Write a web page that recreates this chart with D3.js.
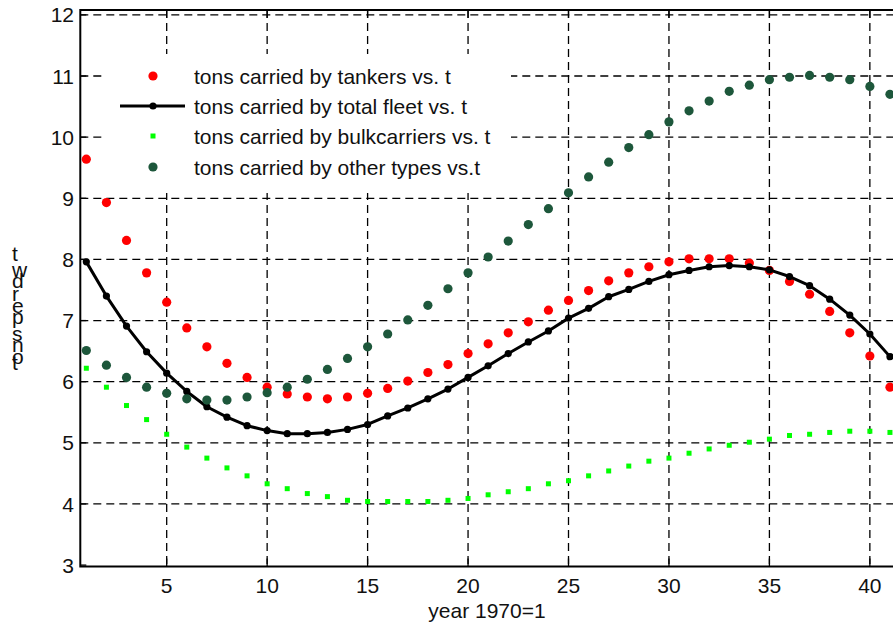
<!DOCTYPE html>
<html>
<head>
<meta charset="utf-8">
<script src="https://cdn.jsdelivr.net/npm/d3@7"></script>
<style>
  body { margin: 0; background: #fff; }
  svg { display: block; font-family: "Liberation Sans", Arial, sans-serif; }
</style>
</head>
<body>
<script>
// year index, 1970 = 1
const years = d3.range(1, 42);

const tankers = [9.64, 8.93, 8.31, 7.78, 7.30, 6.88, 6.57, 6.30, 6.07, 5.91,
                 5.80, 5.75, 5.72, 5.75, 5.81, 5.89, 6.01, 6.15, 6.28, 6.46,
                 6.62, 6.80, 6.98, 7.17, 7.33, 7.49, 7.65, 7.78, 7.88, 7.96,
                 8.01, 8.01, 8.01, 7.94, 7.82, 7.64, 7.43, 7.15, 6.80, 6.42, 5.91];

const totalFleet = [7.96, 7.40, 6.91, 6.49, 6.14, 5.84, 5.59, 5.42, 5.28, 5.20,
                    5.15, 5.15, 5.17, 5.22, 5.30, 5.44, 5.57, 5.72, 5.88, 6.07,
                    6.26, 6.46, 6.65, 6.83, 7.04, 7.20, 7.39, 7.51, 7.64, 7.75,
                    7.82, 7.88, 7.90, 7.88, 7.83, 7.72, 7.57, 7.35, 7.09, 6.78, 6.41];

const bulkCarriers = [6.22, 5.91, 5.61, 5.38, 5.14, 4.93, 4.75, 4.59, 4.46, 4.33,
                      4.25, 4.17, 4.12, 4.06, 4.04, 4.04, 4.04, 4.04, 4.06, 4.09,
                      4.15, 4.20, 4.25, 4.33, 4.38, 4.46, 4.54, 4.62, 4.70, 4.75,
                      4.83, 4.90, 4.96, 5.01, 5.06, 5.12, 5.14, 5.17, 5.19, 5.19, 5.17];

const otherTypes = [6.51, 6.27, 6.07, 5.91, 5.81, 5.72, 5.70, 5.70, 5.75, 5.82,
                    5.91, 6.04, 6.20, 6.38, 6.57, 6.78, 7.01, 7.25, 7.52, 7.78,
                    8.04, 8.30, 8.57, 8.83, 9.09, 9.35, 9.59, 9.83, 10.04, 10.25,
                    10.43, 10.59, 10.75, 10.85, 10.94, 10.98, 11.01, 10.98, 10.94, 10.83, 10.70];

const xTicks = [5, 10, 15, 20, 25, 30, 35, 40];
const yTicks = [3, 4, 5, 6, 7, 8, 9, 10, 11, 12];

const legendLabels = [
    "tons carried by tankers vs. t",
    "tons carried by total fleet vs. t",
    "tons carried by bulkcarriers vs. t",
    "tons carried by other types vs.t"
];

const yLabel = "tons per dwt";
const xLabel = "year 1970=1";

function drawChart() {
    const width = 893;
    const height = 625;
    const fontSize = 21;

    // plot box runs past the right edge of the picture, like the original
    const x = d3.scaleLinear().domain([0.7, 41.5]).range([80.3, 900]);
    const y = d3.scaleLinear().domain([2.977, 12.08]).range([566.5, 10]);

    const svg = d3.select("body").append("svg")
        .attr("width", width)
        .attr("height", height);

    const [x0, x1] = x.range();
    const [y0, y1] = y.range();

    // [0] dashed grid
    const grid = svg.append("g")
        .attr("stroke", "#000")
        .attr("stroke-width", 1.3)
        .attr("stroke-dasharray", "8,5");

    grid.selectAll("line.h")
        .data(yTicks.filter(d => d > 3))
        .join("line")
            .attr("class", "h")
            .attr("x1", x0).attr("x2", x1)
            .attr("y1", d => y(d)).attr("y2", d => y(d));

    grid.selectAll("line.v")
        .data(xTicks)
        .join("line")
            .attr("class", "v")
            .attr("x1", d => x(d)).attr("x2", d => x(d))
            .attr("y1", y1).attr("y2", y0);

    // [1] inner ticks
    const ticks = svg.append("g").attr("stroke", "#000").attr("stroke-width", 1.3);
    ticks.selectAll("line.ly").data(yTicks).join("line")
        .attr("x1", x0).attr("x2", x0 + 6)
        .attr("y1", d => y(d)).attr("y2", d => y(d));
    ticks.selectAll("line.bx").data(xTicks).join("line")
        .attr("class", "bx")
        .attr("x1", d => x(d)).attr("x2", d => x(d))
        .attr("y1", y0).attr("y2", y0 - 8);
    ticks.selectAll("line.tx").data(xTicks).join("line")
        .attr("class", "tx")
        .attr("x1", d => x(d)).attr("x2", d => x(d))
        .attr("y1", y1).attr("y2", y1 + 8);

    // [2] frame
    svg.append("path")
        .attr("fill", "none")
        .attr("stroke", "#000")
        .attr("stroke-width", 2)
        .attr("d", `M${x1},${y1}H${x0}V${y0}H${x1}`);

    // [3] tick labels
    svg.append("g")
        .selectAll("text")
        .data(yTicks)
        .join("text")
            .attr("x", 74)
            .attr("y", d => y(d))
            .attr("dy", "0.36em")
            .attr("text-anchor", "end")
            .attr("font-size", fontSize)
            .attr("fill", "#111")
            .text(d => d);

    svg.append("g")
        .selectAll("text")
        .data(xTicks)
        .join("text")
            .attr("x", d => x(d))
            .attr("y", 593)
            .attr("text-anchor", "middle")
            .attr("font-size", fontSize)
            .attr("fill", "#111")
            .text(d => d);

    svg.append("text")
        .attr("x", 487)
        .attr("y", 618)
        .attr("text-anchor", "middle")
        .attr("font-size", fontSize)
        .attr("fill", "#111")
        .text(xLabel);

    // y label: rotated baseline but upright glyphs (as in the original render)
    const yl = svg.append("g").attr("font-size", fontSize).attr("fill", "#111");
    const probe = yl.append("text");
    let offset = 0;
    const chars = yLabel.split("").map(c => {
        probe.text(c === " " ? "\u00a0" : c);
        const w = probe.node().getComputedTextLength();
        const item = { c, off: offset };
        offset += w;
        return item;
    });
    probe.remove();
    yl.selectAll("text")
        .data(chars.filter(d => d.c !== " "))
        .join("text")
            .attr("x", 12)
            .attr("y", d => 370 - d.off)
            .text(d => d.c);

    // [4] series
    const pts = vals => vals.map((v, i) => ({ t: years[i], v }));

    svg.append("g").attr("fill", "#ff0000")
        .selectAll("circle").data(pts(tankers)).join("circle")
            .attr("cx", d => x(d.t)).attr("cy", d => y(d.v)).attr("r", 4.6);

    const line = d3.line().x(d => x(d.t)).y(d => y(d.v));
    svg.append("path")
        .attr("fill", "none")
        .attr("stroke", "#000")
        .attr("stroke-width", 3)
        .attr("stroke-linejoin", "round")
        .attr("d", line(pts(totalFleet)));
    svg.append("g").attr("fill", "#000")
        .selectAll("circle").data(pts(totalFleet)).join("circle")
            .attr("cx", d => x(d.t)).attr("cy", d => y(d.v)).attr("r", 3.6);

    svg.append("g").attr("fill", "#00ff00")
        .selectAll("rect").data(pts(bulkCarriers)).join("rect")
            .attr("x", d => x(d.t) - 2.5).attr("y", d => y(d.v) - 2.5)
            .attr("width", 5).attr("height", 5);

    svg.append("g").attr("fill", "#1d573b")
        .selectAll("circle").data(pts(otherTypes)).join("circle")
            .attr("cx", d => x(d.t)).attr("cy", d => y(d.v)).attr("r", 4.6);

    // [5] legend, white box without border over the grid
    const legend = svg.append("g");
    legend.append("rect")
        .attr("x", 103).attr("y", 54)
        .attr("width", 408).attr("height", 139)
        .attr("fill", "#fff");

    const rowY = [76, 106, 136, 167];
    const mx = 153;

    legend.append("circle").attr("cx", mx).attr("cy", rowY[0]).attr("r", 4.6).attr("fill", "#ff0000");
    legend.append("line")
        .attr("x1", 120).attr("x2", 185)
        .attr("y1", rowY[1]).attr("y2", rowY[1])
        .attr("stroke", "#000").attr("stroke-width", 3);
    legend.append("circle").attr("cx", mx).attr("cy", rowY[1]).attr("r", 3.6).attr("fill", "#000");
    legend.append("rect")
        .attr("x", mx - 2.5).attr("y", rowY[2] - 2.5)
        .attr("width", 5).attr("height", 5).attr("fill", "#00ff00");
    legend.append("circle").attr("cx", mx).attr("cy", rowY[3]).attr("r", 4.6).attr("fill", "#1d573b");

    legend.selectAll("text")
        .data(legendLabels)
        .join("text")
            .attr("x", 194)
            .attr("y", (d, i) => rowY[i])
            .attr("dy", "0.36em")
            .attr("font-size", fontSize)
            .attr("fill", "#111")
            .text(d => d);
}

drawChart();
</script>
</body>
</html>
